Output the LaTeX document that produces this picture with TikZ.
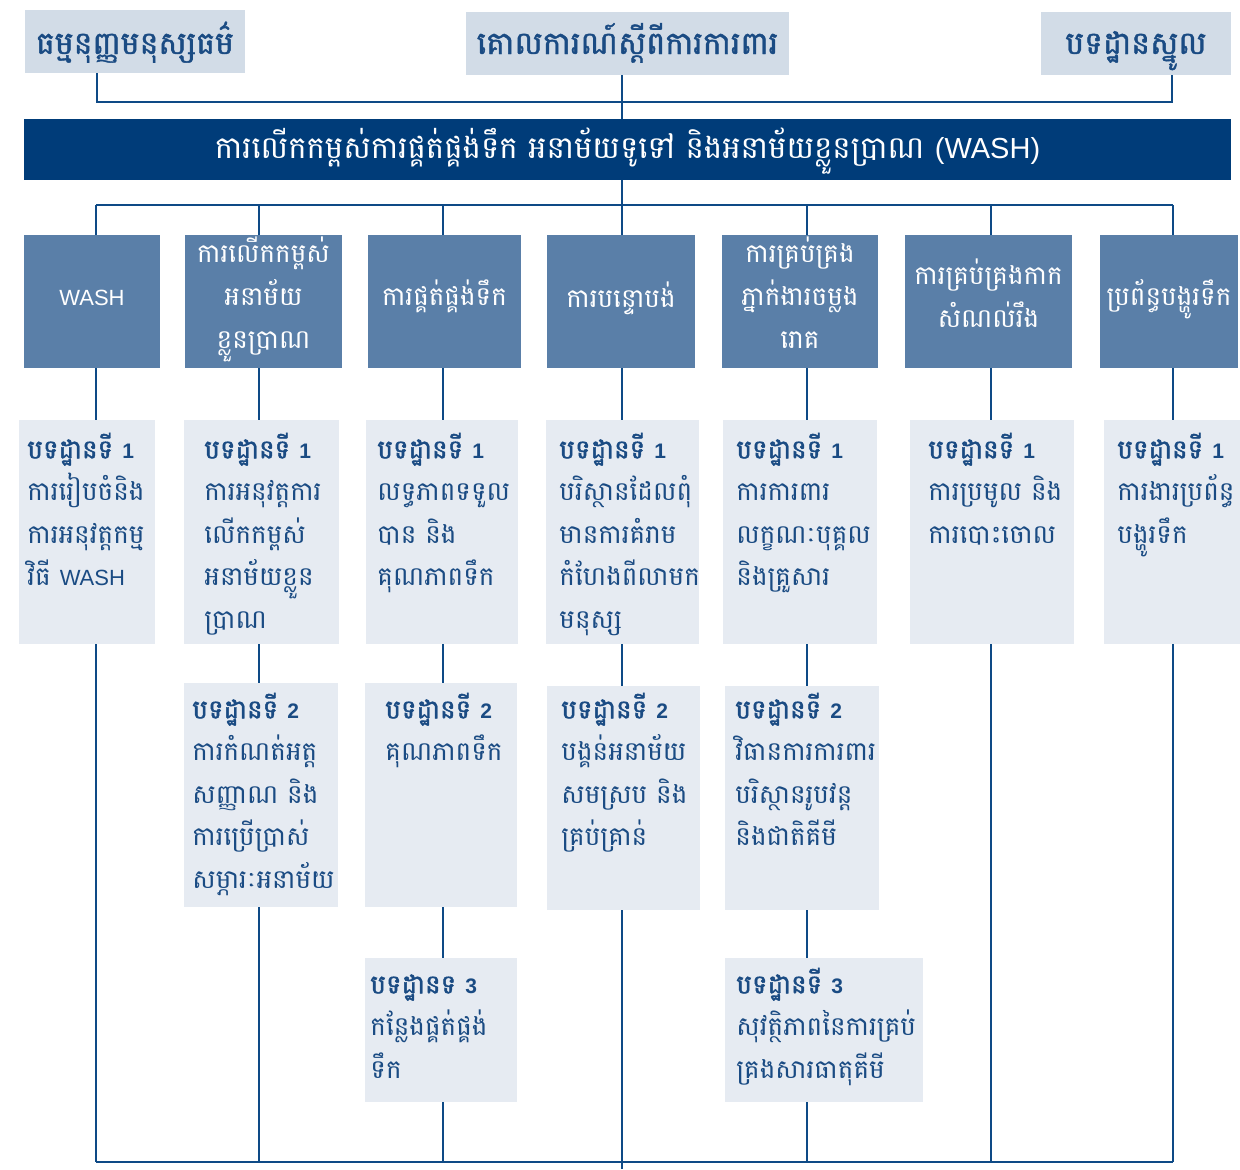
\documentclass[tikz,border=0pt]{standalone}
\usepackage{fontspec}
\usetikzlibrary{fit}
\newfontfamily\khmer[Script=Khmer]{Battambang}
\newfontfamily\khmerhead[Script=Khmer, FakeBold=1.6]{Battambang}
\newfontfamily\khmertop[Script=Khmer, FakeBold=1.3]{Battambang}
\newfontfamily\latinsans{Liberation Sans}
\newcommand\evenlines{\lineskiplimit=-50pt\relax\lineskip=0pt\relax}
% line strut: every line gets the same height and depth
\newcommand\ls{\rule[-12pt]{0pt}{28pt}}
% heading of a standard: Khmer word plus its number
\newcommand\stdhead[2]{\ls{\khmerhead #1} {\latinsans\fontsize{10.5}{10.5}\selectfont\bfseries #2}}
\newcommand\lat[1]{{\latinsans\fontsize{11}{11}\selectfont #1}}
\definecolor{navy}{HTML}{003C79}
\definecolor{wire}{HTML}{0E4A86}
\definecolor{midblue}{HTML}{5A7FA8}
\definecolor{pale}{HTML}{E6EBF2}
\definecolor{greyblue}{HTML}{D2DCE7}
\definecolor{ink}{HTML}{1A4B83}
\begin{document}
\begin{tikzpicture}[x=0.5pt,y=-0.5pt,
  box/.style={inner sep=0pt, outer sep=0pt},
  topbox/.style={box, fill=greyblue},
  bannerbox/.style={box, fill=navy},
  areabox/.style={box, fill=midblue},
  stdbox/.style={box, fill=pale},
  link/.style={draw=wire, line width=1.4pt},
  toptext/.style={text=ink, anchor=base, font=\khmertop\fontsize{15.8}{18}\selectfont, inner sep=0pt},
  bannertext/.style={text=white, anchor=base, font=\khmer\fontsize{15.4}{18}\selectfont, inner sep=0pt},
  areatext/.style={text=white, align=center, font=\khmer\fontsize{13.1}{21.5}\selectfont\evenlines, inner sep=0pt},
  stdtext/.style={text=ink, align=left, anchor=north west, font=\khmer\fontsize{13.1}{21.25}\selectfont\evenlines, inner sep=0pt},
]
\useasboundingbox (0,0) rectangle (1240,1169);

% top row
\node[topbox, fit={(25,10)(245,73)}] (charter) {};
\node[topbox, fit={(466,12)(789,75)}] (protect) {};
\node[topbox, fit={(1041,12)(1231,75)}] (core) {};
\coordinate (topbase) at (0,54);
\node[toptext] (chartert) at (charter.center |- topbase) {ធម្មនុញ្ញមនុស្សធម៌};
\node[toptext] (protectt) at (protect.center |- topbase) {គោលការណ៍ស្តីពីការការពារ};
\node[toptext] (coret) at (core.center |- topbase) {បទដ្ឋានស្នូល};

% banner
\node[bannerbox, fit={(24,119)(1231,180)}] (banner) {};
\coordinate (bannerbase) at (0,158);
\node[bannertext] (bannert) at (banner.center |- bannerbase) {ការលើកកម្ពស់ការផ្គត់ផ្គង់ទឹក អនាម័យទូទៅ និងអនាម័យខ្លួនប្រាណ {\latinsans\fontsize{14.5}{14.5}\selectfont(WASH)}};

% column axes
\coordinate (k1) at (96,205);  \coordinate (u1) at (96,1162);
\coordinate (k2) at (259,205); \coordinate (u2) at (259,1162);
\coordinate (k3) at (443,205); \coordinate (u3) at (443,1162);
\coordinate (k4) at (622,205); \coordinate (u4) at (622,1162);
\coordinate (k5) at (807,205); \coordinate (u5) at (807,1162);
\coordinate (k6) at (991,205); \coordinate (u6) at (991,1162);
\coordinate (k7) at (1173,205); \coordinate (u7) at (1173,1162);
\coordinate (u4e) at (622,1169);
\coordinate (ha) at (97,102);
\coordinate (hc) at (1172,102);

% area boxes
\node[areabox, fit={(24,235)(160,368)}] (a1) {};
\node[areabox, fit={(185,235)(342,368)}] (a2) {};
\node[areabox, fit={(368,235)(521,368)}] (a3) {};
\node[areabox, fit={(547,235)(695,368)}] (a4) {};
\node[areabox, fit={(722,235)(878,368)}] (a5) {};
\node[areabox, fit={(905,235)(1072,368)}] (a6) {};
\node[areabox, fit={(1100,235)(1238,368)}] (a7) {};
\node[areatext] (a1t) at (a1.center) {\ls\lat{WASH}};
\node[areatext] (a2t) at (a2.center) {\ls ការលើកកម្ពស់\\\ls អនាម័យ\\\ls ខ្លួនប្រាណ};
\node[areatext] (a3t) at (a3.center) {\ls ការផ្គត់ផ្គង់ទឹក};
\node[areatext] (a4t) at ([yshift=-1pt]a4.center) {\ls ការបន្ទោបង់};
\node[areatext] (a5t) at (a5.center) {\ls ការគ្រប់គ្រង\\\ls ភ្នាក់ងារចម្លង\\\ls រោគ};
\node[areatext] (a6t) at (a6.center) {\ls ការគ្រប់គ្រងកាក\\\ls សំណល់រឹង};
\node[areatext] (a7t) at (a7.center) {\ls ប្រព័ន្ធបង្ហូរទឹក};

% standard boxes
\node[stdbox, fit={(19,420)(155,644)}] (s1a) {};
\node[stdbox, fit={(184,420)(339,644)}] (s2a) {};
\node[stdbox, fit={(366,420)(518,644)}] (s3a) {};
\node[stdbox, fit={(546,420)(699,644)}] (s4a) {};
\node[stdbox, fit={(723,420)(877,644)}] (s5a) {};
\node[stdbox, fit={(910,420)(1074,644)}] (s6a) {};
\node[stdbox, fit={(1104,420)(1240,644)}] (s7a) {};
\node[stdbox, fit={(184,683)(338,907)}] (s2b) {};
\node[stdbox, fit={(365,683)(517,907)}] (s3b) {};
\node[stdbox, fit={(547,686)(700,910)}] (s4b) {};
\node[stdbox, fit={(725,686)(879,910)}] (s5b) {};
\node[stdbox, fit={(365,958)(517,1102)}] (s3c) {};
\node[stdbox, fit={(725,958)(923,1102)}] (s5c) {};

\node[stdtext] (s1at) at (27,426) {\stdhead{បទដ្ឋានទី}{1}\\\ls ការរៀបចំនិង\\\ls ការអនុវត្តកម្ម\\\ls វិធី \lat{WASH}};
\node[stdtext] (s2at) at (204,426) {\stdhead{បទដ្ឋានទី}{1}\\\ls ការអនុវត្តការ\\\ls លើកកម្ពស់\\\ls អនាម័យខ្លួន\\\ls ប្រាណ};
\node[stdtext] (s3at) at (377,426) {\stdhead{បទដ្ឋានទី}{1}\\\ls លទ្ធភាពទទួល\\\ls បាន និង\\\ls គុណភាពទឹក};
\node[stdtext] (s4at) at (559,426) {\stdhead{បទដ្ឋានទី}{1}\\\ls បរិស្ថានដែលពុំ\\\ls មានការគំរាម\\\ls កំហែងពីលាមក\\\ls មនុស្ស};
\node[stdtext] (s5at) at (736,426) {\stdhead{បទដ្ឋានទី}{1}\\\ls ការការពារ\\\ls លក្ខណៈបុគ្គល\\\ls និងគ្រួសារ};
\node[stdtext] (s6at) at (928,426) {\stdhead{បទដ្ឋានទី}{1}\\\ls ការប្រមូល និង\\\ls ការបោះចោល};
\node[stdtext] (s7at) at (1117,426) {\stdhead{បទដ្ឋានទី}{1}\\\ls ការងារប្រព័ន្ធ\\\ls បង្ហូរទឹក};
\node[stdtext] (s2bt) at (192,686) {\stdhead{បទដ្ឋានទី}{2}\\\ls ការកំណត់អត្ត\\\ls សញ្ញាណ និង\\\ls ការប្រើប្រាស់\\\ls សម្ភារៈអនាម័យ};
\node[stdtext] (s3bt) at (385,686) {\stdhead{បទដ្ឋានទី}{2}\\\ls គុណភាពទឹក};
\node[stdtext] (s4bt) at (561,686) {\stdhead{បទដ្ឋានទី}{2}\\\ls បង្គន់អនាម័យ\\\ls សមស្រប និង\\\ls គ្រប់គ្រាន់};
\node[stdtext] (s5bt) at (735,686) {\stdhead{បទដ្ឋានទី}{2}\\\ls វិធានការការពារ\\\ls បរិស្ថានរូបវន្ត\\\ls និងជាតិគីមី};
\node[stdtext] (s3ct) at (370,961) {\stdhead{បទដ្ឋានទ}{3}\\\ls កន្លែងផ្គត់ផ្គង់\\\ls ទឹក};
\node[stdtext] (s5ct) at (736,961) {\stdhead{បទដ្ឋានទី}{3}\\\ls សុវត្ថិភាពនៃការគ្រប់\\\ls គ្រងសារធាតុគីមី};

% connectors: upper frameworks to the banner
\draw[link] (charter.south -| ha) -- (ha) -- (hc) -- (core.south -| hc);
\draw[link] (protect.south -| k4) -- (banner.north -| k4);
\draw[link] (banner.south -| k4) -- (k4);
\draw[link] (k1) -- (k7);
% banner to the areas
\foreach \i in {1,...,7} {
  \draw[link] (k\i) -- (a\i.north -| k\i);
  \draw[link] (a\i.south -| k\i) -- (s\i a.north -| k\i);
}
% standards down to the base line
\draw[link] (s1a.south -| k1) -- (u1);
\draw[link] (s2a.south -| k2) -- (s2b.north -| k2);
\draw[link] (s2b.south -| k2) -- (u2);
\draw[link] (s3a.south -| k3) -- (s3b.north -| k3);
\draw[link] (s3b.south -| k3) -- (s3c.north -| k3);
\draw[link] (s3c.south -| k3) -- (u3);
\draw[link] (s4a.south -| k4) -- (s4b.north -| k4);
\draw[link] (s4b.south -| k4) -- (u4e);
\draw[link] (s5a.south -| k5) -- (s5b.north -| k5);
\draw[link] (s5b.south -| k5) -- (s5c.north -| k5);
\draw[link] (s5c.south -| k5) -- (u5);
\draw[link] (s6a.south -| k6) -- (u6);
\draw[link] (s7a.south -| k7) -- (u7);
\draw[link] (u1) -- (u7);
\end{tikzpicture}
\end{document}
